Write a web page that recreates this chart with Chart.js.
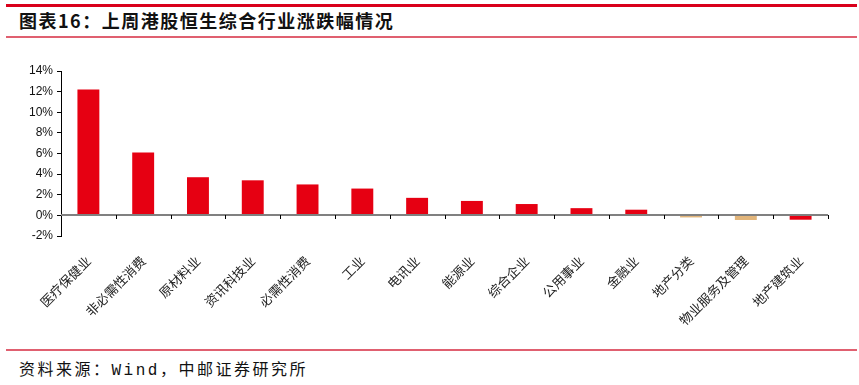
<!DOCTYPE html>
<html>
<head>
<meta charset="utf-8">
<script src="https://cdn.jsdelivr.net/npm/chart.js@4"></script>
<style>
    body{ margin:0; width:859px; height:385px; background:#fff; position:relative; overflow:hidden; font-family:"Noto Sans CJK SC", sans-serif; }
    .top-line{ position:absolute; left:6px; top:4px; width:851px; height:3px; background:#d9001b; }
    .title{ position:absolute; left:19px; top:7px; font-size:18px; font-weight:bold; color:#111; letter-spacing:1.5px; }
    .title-line{ position:absolute; left:6px; top:36px; width:851px; height:2px; background:#e06070; }
    .foot-line{ position:absolute; left:6px; top:349px; width:851px; height:2px; background:#e06070; }
    .source{ position:absolute; left:19px; top:356px; font-size:16px; color:#111; letter-spacing:2.5px; font-family:"Liberation Mono","Noto Sans CJK SC",monospace; }
    #chart{ position:absolute; left:0; top:40px; }
</style>
</head>
<body>
<div class="top-line"></div>
<div class="title">图表16：上周港股恒生综合行业涨跌幅情况</div>
<div class="title-line"></div>
<canvas id="chart" width="859" height="306"></canvas>
<div class="foot-line"></div>
<div class="source">资料来源：Wind，中邮证券研究所</div>
<script>
const industries = ['医疗保健业','非必需性消费','原材料业','资讯科技业','必需性消费','工业','电讯业','能源业','综合企业','公用事业','金融业','地产分类','物业服务及管理','地产建筑业'];
const weeklyChange = [12.2, 6.1, 3.7, 3.4, 3.0, 2.6, 1.7, 1.4, 1.1, 0.7, 0.55, -0.2, -0.45, -0.42];
const yTicks = [-2, 0, 2, 4, 6, 8, 10, 12, 14];

const red = '#e60012';
const tan = '#e2b57a';
// real estate groups drawn in tan, like the original
const barColors = industries.map(name => (name === '地产分类' || name === '物业服务及管理') ? tan : red);

// zero line with little tick marks between categories
const zeroAxis = {
    id:'zeroAxis',
    afterDatasetsDraw(chart){
        const {ctx, chartArea, scales:{y}} = chart;
        const y0 = Math.round(y.getPixelForValue(0));
        ctx.save();
        ctx.strokeStyle = '#808080';
        ctx.lineWidth = 2;
        ctx.beginPath();
        ctx.moveTo(chartArea.left, y0);
        ctx.lineTo(chartArea.right, y0);
        ctx.stroke();
        ctx.strokeStyle = '#000';
        ctx.lineWidth = 1;
        const step = (chartArea.right - chartArea.left) / industries.length;
        for(let i = 1; i <= industries.length; i++){
            const px = Math.round(chartArea.left + step * i) + 0.5;
            ctx.beginPath();
            ctx.moveTo(px, y0);
            ctx.lineTo(px, y0 + 4);
            ctx.stroke();
        }
        ctx.restore();
    }
};

new Chart(document.getElementById('chart').getContext('2d'), {
    type:'bar',
    data:{
        labels:industries,
        datasets:[{
            data:weeklyChange,
            backgroundColor:barColors,
            barPercentage:0.4,
            categoryPercentage:1
        }]
    },
    options:{
        responsive:false,
        animation:false,
        layout:{ padding:{ left:0, right:31, top:31, bottom:0 } },
        plugins:{ legend:{ display:false }, tooltip:{ enabled:false } },
        scales:{
            x:{
                afterFit(axis){ axis.height = 110; },
                grid:{ display:false },
                border:{ display:false },
                ticks:{
                    color:'#222',
                    font:{ family:'"Noto Sans CJK SC"', size:13 },
                    autoSkip:false,
                    maxRotation:45, minRotation:45,
                    padding:9
                }
            },
            y:{
                min:-2, max:14,
                afterFit(axis){ axis.width = 61; },
                afterBuildTicks(axis){ axis.ticks = yTicks.map(v => ({value:v})); },
                grid:{ drawOnChartArea:false, drawTicks:true, tickLength:4, tickColor:'#000' },
                border:{ display:true, color:'#000', width:1 },
                ticks:{
                    color:'#111',
                    font:{ family:'"Liberation Sans", Arial', size:12 },
                    autoSkip:false,
                    padding:4,
                    callback:v => v + '%'
                }
            }
        }
    },
    plugins:[zeroAxis]
});
</script>
</body>
</html>
